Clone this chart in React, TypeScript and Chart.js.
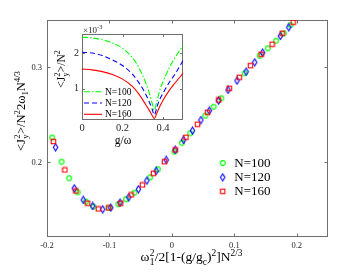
import React, { useEffect, useRef } from 'react';
import { Chart, registerables } from 'chart.js';

Chart.register(...registerables);

// ---------- data ----------
const seriesNames = ['N=100', 'N=120', 'N=160'];

const n100X = [-0.1917, -0.1766, -0.1644, -0.1509, -0.1376, -0.1258, -0.1002, -0.0857, -0.0734, -0.06, -0.0348, -0.0225, 0.0042, 0.0161, 0.0294, 0.0535, 0.0668, 0.0791, 0.1165, 0.1406, 0.1535, 0.1669, 0.1791, 0.1899];
const n100Y = [0.2263, 0.2008, 0.1834, 0.1686, 0.1587, 0.1535, 0.1524, 0.156, 0.1613, 0.1682, 0.1844, 0.1928, 0.2114, 0.2208, 0.2307, 0.2493, 0.2587, 0.2676, 0.2939, 0.3124, 0.3202, 0.3282, 0.336, 0.3447];

const n120X = [-0.1862, -0.1563, -0.1419, -0.1268, -0.1108, -0.0979, -0.083, -0.069, -0.0536, -0.0401, -0.0252, -0.0091, 0.0053, 0.0186, 0.0331, 0.0465, 0.0599, 0.0748, 0.0899, 0.1043, 0.1188, 0.1326, 0.1454, 0.1738, 0.1872];
const n120Y = [0.216, 0.1728, 0.1605, 0.1542, 0.1507, 0.1524, 0.1577, 0.1634, 0.1718, 0.1808, 0.1911, 0.2026, 0.2132, 0.2237, 0.2335, 0.2447, 0.2545, 0.2651, 0.2763, 0.2861, 0.2956, 0.3055, 0.3156, 0.3332, 0.3423];

const n160X = [-0.1898, -0.1713, -0.1536, -0.1348, -0.1178, -0.1017, -0.0819, -0.0653, -0.0472, -0.0295, -0.0119, 0.0053, 0.0225, 0.0411, 0.0571, 0.0748, 0.092, 0.108, 0.1257, 0.1429, 0.1605, 0.1766, 0.1942];
const n160Y = [0.2221, 0.1921, 0.17, 0.1571, 0.1511, 0.1521, 0.1571, 0.1658, 0.1763, 0.1886, 0.2008, 0.2132, 0.2265, 0.2402, 0.2528, 0.2658, 0.2781, 0.2897, 0.3019, 0.3139, 0.3244, 0.336, 0.3476];

// inset: g/omega vs <Jy^2>/N^2 (x10^-3)
const insetG = [0, 0.05, 0.1, 0.15, 0.2, 0.25, 0.28, 0.31, 0.33, 0.345, 0.357, 0.37, 0.385, 0.4, 0.43, 0.46, 0.5];
const inset100 = [2.44, 2.42, 2.37, 2.28, 2.13, 1.86, 1.6, 1.23, 0.92, 0.62, 0.4, 0.66, 0.98, 1.2, 1.58, 1.88, 2.22];
const inset120 = [2.02, 2.0, 1.93, 1.81, 1.65, 1.4, 1.18, 0.9, 0.66, 0.45, 0.27, 0.5, 0.72, 0.88, 1.17, 1.42, 1.8];
const inset160 = [1.55, 1.53, 1.48, 1.4, 1.27, 1.06, 0.86, 0.6, 0.42, 0.27, 0.17, 0.33, 0.52, 0.68, 0.95, 1.17, 1.44];

const mainXTicks = [-0.2, -0.1, 0, 0.1, 0.2];
const mainYTicks = [0.2, 0.3];
const insetXTicks = [0, 0.2, 0.4];
const insetYTicks = [1, 2];

// ---------- styling ----------
const FONT = "'Liberation Serif', 'Times New Roman', serif";
const GREEN = '#00ff00';
const BLUE = '#0000ff';
const RED = '#ff0000';
const AXIS = '#6e6e6e';
const TICKTEXT = '#262626';

function makeMarker(kind: string, color: string): HTMLCanvasElement {
  const c = document.createElement('canvas');
  const ctx = c.getContext('2d')!;
  if (kind === 'circle') {
    c.width = 8; c.height = 8;
    ctx.strokeStyle = color; ctx.lineWidth = 1.1;
    ctx.beginPath(); ctx.arc(4, 4, 2.4, 0, Math.PI * 2); ctx.stroke();
  } else if (kind === 'diamond') {
    c.width = 7; c.height = 9;
    ctx.strokeStyle = color; ctx.lineWidth = 1.1;
    ctx.beginPath();
    ctx.moveTo(3.5, 1); ctx.lineTo(5.7, 4.5); ctx.lineTo(3.5, 8); ctx.lineTo(1.3, 4.5); ctx.closePath();
    ctx.stroke();
  } else {
    c.width = 7; c.height = 7;
    ctx.strokeStyle = color; ctx.lineWidth = 1.1;
    ctx.strokeRect(1.3, 1.3, 4.4, 4.4);
  }
  return c;
}

function framePlugin(tickLen: number, fillWhite: boolean) {
  return {
    id: 'frame' + tickLen,
    beforeDatasetsDraw(chart: any) {
      const { ctx, chartArea: a, scales } = chart;
      ctx.save();
      if (fillWhite) {
        ctx.fillStyle = '#ffffff';
        ctx.fillRect(a.left, a.top, a.right - a.left, a.bottom - a.top);
      }
      ctx.strokeStyle = AXIS;
      ctx.lineWidth = 1;
      const L = Math.round(a.left) + 0.5, R = Math.round(a.right) - 0.5;
      const T = Math.round(a.top) + 0.5, B = Math.round(a.bottom) - 0.5;
      ctx.strokeRect(L, T, R - L, B - T);
      ctx.beginPath();
      for (const t of scales.x.ticks) {
        const px = Math.round(scales.x.getPixelForValue(t.value)) + 0.5;
        ctx.moveTo(px, B); ctx.lineTo(px, B - tickLen);
        ctx.moveTo(px, T); ctx.lineTo(px, T + tickLen);
      }
      for (const t of scales.y.ticks) {
        const py = Math.round(scales.y.getPixelForValue(t.value)) + 0.5;
        ctx.moveTo(L, py); ctx.lineTo(L + tickLen, py);
        ctx.moveTo(R, py); ctx.lineTo(R - tickLen, py);
      }
      ctx.stroke();
      ctx.restore();
    },
  };
}

const Sup = ({ children }: { children: React.ReactNode }) => (
  <span style={{ fontSize: '0.7em', verticalAlign: '0.55em', lineHeight: 0 }}>{children}</span>
);
const Sub = ({ children }: { children: React.ReactNode }) => (
  <span style={{ fontSize: '0.7em', verticalAlign: '-0.35em', lineHeight: 0 }}>{children}</span>
);
const SS = ({ sup, sub }: { sup: string; sub: string }) => (
  <span style={{ display: 'inline-flex', flexDirection: 'column', fontSize: '0.7em', lineHeight: 0.95, verticalAlign: '0.55em', margin: '0 0.04em' }}>
    <span>{sup}</span>
    <span>{sub}</span>
  </span>
);

export default function App() {
  const mainRef = useRef<HTMLCanvasElement>(null);
  const insetRef = useRef<HTMLCanvasElement>(null);

  useEffect(() => {
    const markers = [makeMarker('circle', GREEN), makeMarker('diamond', BLUE), makeMarker('square', RED)];
    const xs = [n100X, n120X, n160X];
    const ys = [n100Y, n120Y, n160Y];

    const legendPlugin = {
      id: 'mainLegend',
      afterDraw(chart: any) {
        const ctx = chart.ctx;
        ctx.save();
        ctx.font = `13px ${FONT}`;
        ctx.fillStyle = '#000';
        ctx.textBaseline = 'middle';
        ctx.textAlign = 'left';
        const rowsY = [163, 177.3, 191.3];
        seriesNames.forEach((name, i) => {
          const m = markers[i];
          ctx.drawImage(m, 222.7 - m.width / 2, rowsY[i] - m.height / 2);
          ctx.fillText(name, 234.3, rowsY[i] + 0.5);
        });
        ctx.restore();
      },
    };

    const main = new Chart(mainRef.current!, {
      type: 'scatter',
      data: {
        datasets: seriesNames.map((name, i) => ({
          label: name,
          data: xs[i].map((x, j) => ({ x, y: ys[i][j] })),
          pointStyle: markers[i] as any,
          pointRadius: 3,
          order: 2 - i,
          showLine: false,
        })),
      },
      options: {
        responsive: false,
        animation: false,
        devicePixelRatio: 1,
        layout: { padding: { top: 20, right: 34, left: 0, bottom: 0 } },
        plugins: { legend: { display: false }, tooltip: { enabled: false } },
        events: [],
        scales: {
          x: {
            type: 'linear',
            min: -0.2,
            max: 0.25,
            grid: { display: false, drawTicks: false },
            border: { display: false },
            afterBuildTicks: (s: any) => { s.ticks = mainXTicks.map((v) => ({ value: v })); },
            afterFit: (s: any) => { s.height = 39; },
            ticks: {
              padding: 4,
              color: TICKTEXT,
              font: { family: FONT, size: 8.5 },
              callback: (v: any) => String(Math.round(Number(v) * 10) / 10),
            },
          },
          y: {
            type: 'linear',
            min: 0.1215,
            max: 0.35,
            grid: { display: false, drawTicks: false },
            border: { display: false },
            afterBuildTicks: (s: any) => { s.ticks = mainYTicks.map((v) => ({ value: v })); },
            afterFit: (s: any) => { s.width = 47; },
            ticks: {
              padding: 5,
              color: TICKTEXT,
              font: { family: FONT, size: 8.5 },
              callback: (v: any) => String(Math.round(Number(v) * 10) / 10),
            },
          },
        },
      },
      plugins: [framePlugin(3, false), legendPlugin],
    });

    const insetColors = [GREEN, BLUE, RED];
    const insetYs = [inset100, inset120, inset160];
    const insetDash = [[6, 2, 1.5, 2], [5, 3], []];

    const insetLegend = {
      id: 'insetLegend',
      afterDraw(chart: any) {
        const ctx = chart.ctx;
        ctx.save();
        ctx.font = `9.5px ${FONT}`;
        ctx.fillStyle = '#000';
        ctx.textBaseline = 'middle';
        ctx.textAlign = 'left';
        const rowsY = [71.7, 83, 94.3];
        seriesNames.forEach((name, i) => {
          ctx.strokeStyle = insetColors[i];
          ctx.lineWidth = 1.1;
          ctx.setLineDash(insetDash[i]);
          ctx.beginPath();
          ctx.moveTo(44, rowsY[i]);
          ctx.lineTo(62, rowsY[i]);
          ctx.stroke();
          ctx.setLineDash([]);
          ctx.fillText(name, 65, rowsY[i] + 0.5);
        });
        ctx.restore();
      },
    };

    const inset = new Chart(insetRef.current!, {
      type: 'scatter',
      data: {
        datasets: seriesNames.map((name, i) => ({
          label: name,
          data: insetG.map((g, j) => ({ x: g, y: insetYs[i][j] })),
          showLine: true,
          pointRadius: 0,
          borderColor: insetColors[i],
          borderWidth: 1.1,
          borderDash: insetDash[i],
          cubicInterpolationMode: 'monotone',
          order: i,
        })),
      },
      options: {
        responsive: false,
        animation: false,
        devicePixelRatio: 1,
        layout: { padding: { top: 14, right: 6.7, left: 0, bottom: 0 } },
        plugins: { legend: { display: false }, tooltip: { enabled: false } },
        events: [],
        scales: {
          x: {
            type: 'linear',
            min: 0,
            max: 0.5,
            grid: { display: false, drawTicks: false },
            border: { display: false },
            afterBuildTicks: (s: any) => { s.ticks = insetXTicks.map((v) => ({ value: v })); },
            afterFit: (s: any) => { s.height = 30; },
            ticks: {
              padding: 2,
              color: TICKTEXT,
              font: { family: FONT, size: 10.5 },
              callback: (v: any) => String(Math.round(Number(v) * 10) / 10),
            },
          },
          y: {
            type: 'linear',
            min: 0.13,
            max: 2.53,
            grid: { display: false, drawTicks: false },
            border: { display: false },
            afterBuildTicks: (s: any) => { s.ticks = insetYTicks.map((v) => ({ value: v })); },
            afterFit: (s: any) => { s.width = 42; },
            ticks: {
              padding: 3,
              color: TICKTEXT,
              font: { family: FONT, size: 10 },
              callback: (v: any) => String(v),
            },
          },
        },
      },
      plugins: [framePlugin(2.5, true), insetLegend],
    });

    return () => {
      main.destroy();
      inset.destroy();
    };
  }, []);

  const labelBase: React.CSSProperties = {
    position: 'absolute',
    whiteSpace: 'nowrap',
    fontFamily: FONT,
    color: '#000',
    lineHeight: 1,
  };

  return (
    <div style={{ position: 'fixed', left: 0, top: 0, width: 362, height: 276, background: '#fff', overflow: 'hidden' }}>
      <canvas ref={mainRef} width={362} height={276} style={{ position: 'absolute', left: 0, top: 0, width: 362, height: 276 }} />
      <canvas ref={insetRef} width={150} height={130} style={{ position: 'absolute', left: 40, top: 20, width: 150, height: 130 }} />
      {/* main y label */}
      <div style={{ ...labelBase, left: 21, top: 111, fontSize: 12.5, transform: 'translate(-50%, -50%) rotate(-90deg)' }}>
        &lt;J<SS sup="2" sub="y" />&gt;/N<Sup>2</Sup>2ω<Sub>1</Sub>N<Sup>4/3</Sup>
      </div>
      {/* main x label */}
      <div style={{ ...labelBase, left: 191.5, top: 258, fontSize: 13.5, transform: 'translate(-50%, -50%)' }}>
        ω<SS sup="2" sub="1" />/2[1-(g/g<Sub>c</Sub>)<Sup>2</Sup>]N<Sup>2/3</Sup>
      </div>
      {/* inset y label */}
      <div style={{ ...labelBase, left: 61.5, top: 69, fontSize: 11.5, transform: 'translate(-50%, -50%) rotate(-90deg)' }}>
        &lt;J<SS sup="2" sub="y" />&gt;/N<Sup>2</Sup>
      </div>
      {/* inset x label */}
      <div style={{ ...labelBase, left: 123, top: 141, fontSize: 11.5, transform: 'translate(-50%, -50%)' }}>
        g/ω
      </div>
      {/* inset exponent */}
      <div style={{ ...labelBase, left: 83, top: 30, fontSize: 9, color: TICKTEXT, transform: 'translate(0, -50%)' }}>
        ×10<Sup>-3</Sup>
      </div>
    </div>
  );
}
